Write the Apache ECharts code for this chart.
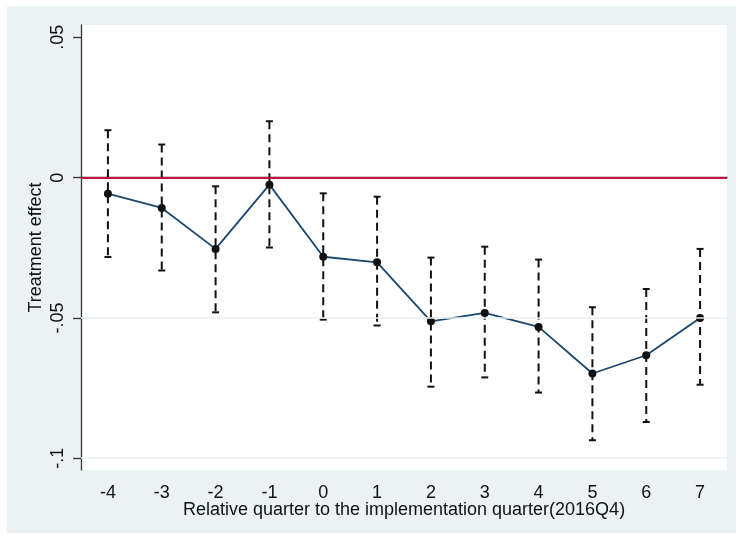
<!DOCTYPE html>
<html>
<head>
<meta charset="utf-8">
<script src="https://cdn.jsdelivr.net/npm/echarts@6/dist/echarts.min.js"></script>
<style>
  html, body { margin: 0; padding: 0; background: #fff; }
  #main { width: 736px; height: 535px; }
</style>
</head>
<body>
<div id="main"></div>
<script>
// quarters relative to 2016Q4
const quarters = ['-4', '-3', '-2', '-1', '0', '1', '2', '3', '4', '5', '6', '7'];
// point estimates
const effect = [-0.0057, -0.0108, -0.0254, -0.0025, -0.0282, -0.0302, -0.0512, -0.0482, -0.0532, -0.0698, -0.0633, -0.0500];
// 95% CI bounds
const ciLow = [-0.0283, -0.0331, -0.0480, -0.0249, -0.0506, -0.0527, -0.0745, -0.0712, -0.0766, -0.0936, -0.0871, -0.0738];
const ciHigh = [0.0169, 0.0118, -0.0031, 0.0201, -0.0056, -0.0068, -0.0285, -0.0246, -0.0292, -0.0462, -0.0397, -0.0254];
// y tick values and their Stata-style labels
const yTicks = [-0.1, -0.05, 0, 0.05];
const yTickLabels = ['-.1', '-.05', '0', '.05'];

const myChart = echarts.init(document.getElementById('main'));
const font = 'Liberation Sans, Arial, sans-serif';

myChart.setOption({
    backgroundColor: '#ffffff',
    animation: false,
    graphic: [{
        type: 'rect', z: -10, silent: true,
        shape: {x: 7, y: 6, width: 729, height: 527},
        style: {fill: '#eaf2f3'}
    }],
    grid: {
        left: 81, right: 9, top: 25, bottom: 65,
        show: true, backgroundColor: '#ffffff', borderWidth: 0
    },
    xAxis: {
        type: 'category',
        data: quarters,
        boundaryGap: true,
        name: 'Relative quarter to the implementation quarter(2016Q4)',
        nameLocation: 'middle',
        nameGap: 31,
        nameMoveOverlap: false,
        nameTextStyle: {fontFamily: font, fontSize: 18, color: '#111'},
        axisLine: {lineStyle: {color: '#333', width: 1.3}},
        axisTick: {alignWithLabel: true, length: 7, lineStyle: {color: '#333', width: 1.3}},
        axisLabel: {fontFamily: font, fontSize: 18, color: '#111', margin: 14},
        splitLine: {show: false}
    },
    yAxis: {
        type: 'value',
        min: -0.1042,
        max: 0.0544,
        name: 'Treatment effect',
        nameLocation: 'middle',
        nameGap: 36,
        nameRotate: 90,
        nameMoveOverlap: false,
        nameTextStyle: {fontFamily: font, fontSize: 18, color: '#111'},
        axisLine: {show: true, lineStyle: {color: '#333', width: 1.3}},
        axisTick: {show: true, length: 8, customValues: yTicks, lineStyle: {color: '#333', width: 1.3}},
        axisLabel: {
            fontFamily: font, fontSize: 18, color: '#111', rotate: 90, margin: 14,
            customValues: yTicks,
            formatter: function (v) {
                const i = yTicks.findIndex(t => Math.abs(t - v) < 1e-9);
                return i >= 0 ? yTickLabels[i] : '';
            }
        },
        splitLine: {show: false}
    },
    series: [
        {
            // light grid lines and zero reference line
            type: 'line',
            data: [],
            markLine: {
                silent: true, symbol: 'none', label: {show: false},
                data: [
                    {yAxis: -0.1, lineStyle: {color: '#eaf2f3', width: 1.5, type: 'solid'}},
                    {yAxis: -0.05, lineStyle: {color: '#eaf2f3', width: 1.5, type: 'solid'}},
                    {yAxis: 0, lineStyle: {color: '#c8103a', width: 2, type: 'solid'}}
                ]
            },
            z: 1
        },
        {
            type: 'custom',
            data: quarters.map((q, i) => [i, ciLow[i], ciHigh[i]]),
            renderItem: function (params, api) {
                const top = api.coord([api.value(0), api.value(2)]);
                const bot = api.coord([api.value(0), api.value(1)]);
                const hw = 3.5;
                const st = {stroke: '#111', lineWidth: 2};
                return {
                    type: 'group',
                    children: [
                        {type: 'line', shape: {x1: top[0], y1: top[1], x2: bot[0], y2: bot[1]},
                            style: {stroke: '#111', lineWidth: 2, lineDash: [8, 5]}},
                        {type: 'line', shape: {x1: top[0] - hw, y1: top[1], x2: top[0] + hw, y2: top[1]}, style: st},
                        {type: 'line', shape: {x1: bot[0] - hw, y1: bot[1], x2: bot[0] + hw, y2: bot[1]}, style: st}
                    ]
                };
            },
            z: 2
        },
        {
            type: 'line',
            data: effect,
            symbol: 'circle',
            symbolSize: 8,
            itemStyle: {color: '#111'},
            lineStyle: {color: '#1a476f', width: 1.8},
            z: 3
        }
    ]
});
</script>
</body>
</html>
